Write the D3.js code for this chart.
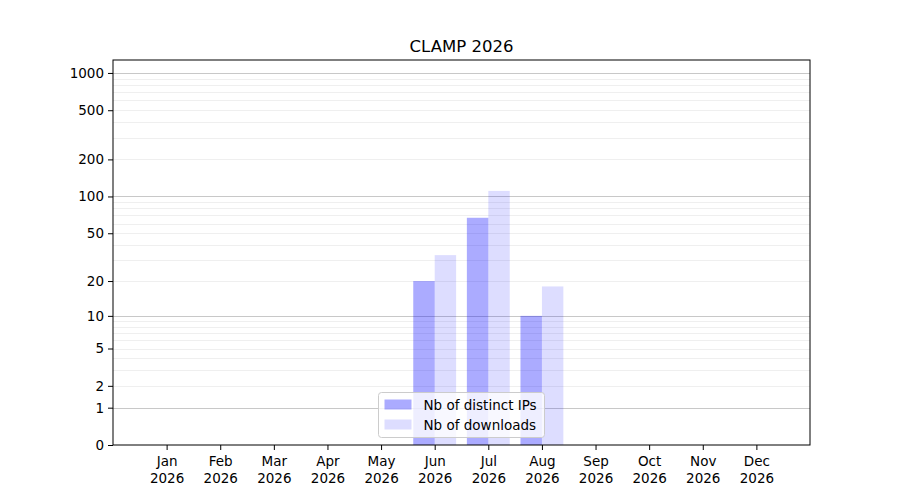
<!DOCTYPE html>
<html>
<head>
<meta charset="utf-8">
<script src="https://cdn.jsdelivr.net/npm/d3@7"></script>
<style>
  body { margin: 0; background: #fff; }
  text { font-family: "DejaVu Sans", sans-serif; }
</style>
</head>
<body>
<svg id="chart" width="900" height="500"></svg>
<script>
const months = ['Jan', 'Feb', 'Mar', 'Apr', 'May', 'Jun', 'Jul', 'Aug', 'Sep', 'Oct', 'Nov', 'Dec']
const year = '2026'
const distinctIPs = [0, 0, 0, 0, 0, 20, 67, 10, 0, 0, 0, 0]
const downloads = [0, 0, 0, 0, 0, 33, 111, 18, 0, 0, 0, 0]
const yTicks = [0, 1, 2, 5, 10, 20, 50, 100, 200, 500, 1000]
const yMajorGrid = [1, 10, 100, 1000]
const yMinorGrid = [2, 3, 4, 5, 6, 7, 8, 9, 20, 30, 40, 50, 60, 70, 80, 90, 200, 300, 400, 500, 600, 700, 800, 900]
const seriesNames = ['Nb of distinct IPs', 'Nb of downloads']

const plotL = 113, plotR = 810, plotT = 60, plotB = 445
const svg = d3.select('#chart')

const x = d3.scaleLinear().domain([-1, 12]).range([plotL, plotR])
const y = d3.scaleSymlog().constant(1).domain([0, 1272]).range([plotB, plotT])
const step = x(1) - x(0)
const bw = step * 0.4

// title
svg.append('text')
  .attr('x', (plotL + plotR) / 2).attr('y', 52)
  .attr('text-anchor', 'middle')
  .attr('font-size', 16.5)
  .text('CLAMP ' + year)

// grid
const grid = svg.append('g')
grid.selectAll('.minor').data(yMinorGrid).enter().append('line')
  .attr('x1', plotL).attr('x2', plotR)
  .attr('y1', d => Math.round(y(d)) + 0.5).attr('y2', d => Math.round(y(d)) + 0.5)
  .attr('stroke', '#ebebeb').attr('stroke-width', 0.8)
grid.selectAll('.major').data(yMajorGrid).enter().append('line')
  .attr('x1', plotL).attr('x2', plotR)
  .attr('y1', d => Math.round(y(d)) + 0.5).attr('y2', d => Math.round(y(d)) + 0.5)
  .attr('stroke', '#c8c8c8').attr('stroke-width', 1)

// bars
svg.append('g').selectAll('rect').data(distinctIPs).enter().append('rect')
  .attr('x', (d, i) => x(i) - bw)
  .attr('width', bw)
  .attr('y', d => y(d))
  .attr('height', d => plotB - y(d))
  .attr('fill', 'blue').attr('fill-opacity', 0.33)

svg.append('g').selectAll('rect').data(downloads).enter().append('rect')
  .attr('x', (d, i) => x(i))
  .attr('width', bw)
  .attr('y', d => y(d))
  .attr('height', d => plotB - y(d))
  .attr('fill', 'blue').attr('fill-opacity', 0.135)

// axes
const yAxis = d3.axisLeft(y).tickValues(yTicks).tickFormat(d3.format('d')).tickSize(5).tickPadding(4)
const ya = svg.append('g').attr('transform', `translate(${plotL},0)`).call(yAxis)
ya.select('.domain').remove()
ya.selectAll('text').attr('font-size', 13.5).attr('fill', '#000').style('font-family', '"DejaVu Sans", sans-serif')
ya.selectAll('line').attr('stroke', '#000')

const xAxis = d3.axisBottom(x).tickValues(d3.range(12)).tickFormat('').tickSize(5)
const xa = svg.append('g').attr('transform', `translate(0,${plotB})`).call(xAxis)
xa.select('.domain').remove()
xa.selectAll('line').attr('stroke', '#000')
xa.selectAll('.tick').append('text')
  .attr('fill', '#000').attr('font-size', 13.5)
  .attr('text-anchor', 'middle')
  .style('font-family', '"DejaVu Sans", sans-serif')
  .each(function (d) {
    const t = d3.select(this)
    t.append('tspan').attr('x', 0).attr('y', 21).text(months[d])
    t.append('tspan').attr('x', 0).attr('y', 38).text(year)
  })

// frame
svg.append('rect')
  .attr('x', plotL).attr('y', plotT)
  .attr('width', plotR - plotL).attr('height', plotB - plotT)
  .attr('fill', 'none').attr('stroke', '#000').attr('stroke-width', 1)

// legend
const lg = svg.append('g').attr('transform', 'translate(378.5,392.5)')
lg.append('rect').attr('width', 166).attr('height', 45).attr('rx', 3)
  .attr('fill', '#fff').attr('fill-opacity', 0.8).attr('stroke', '#ccc')
const opac = [0.33, 0.135]
seriesNames.forEach((name, i) => {
  lg.append('rect').attr('x', 6).attr('y', 7 + i * 20).attr('width', 27).attr('height', 10)
    .attr('fill', 'blue').attr('fill-opacity', opac[i])
  lg.append('text').attr('x', 45).attr('y', 17 + i * 20)
    .attr('font-size', 13.5).text(name)
})
</script>
</body>
</html>
